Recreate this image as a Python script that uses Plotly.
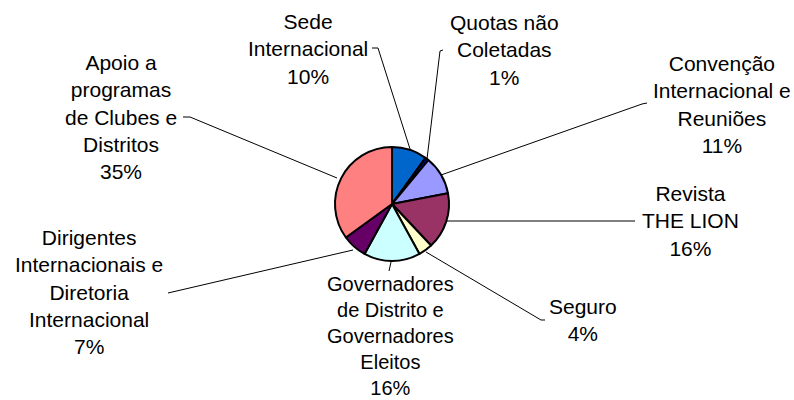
import plotly.graph_objects as go

# ---- data ----
labels = [
    "Sede Internacional",
    "Quotas não Coletadas",
    "Convenção Internacional e Reuniões",
    "Revista THE LION",
    "Seguro",
    "Governadores de Distrito e Governadores Eleitos",
    "Dirigentes Internacionais e Diretoria Internacional",
    "Apoio a programas de Clubes e Distritos",
]
values = [10, 1, 11, 16, 4, 16, 7, 35]
label_lines = [
    ["Sede", "Internacional"],
    ["Quotas não", "Coletadas"],
    ["Convenção", "Internacional e", "Reuniões"],
    ["Revista", "THE LION"],
    ["Seguro"],
    ["Governadores", "de Distrito e", "Governadores", "Eleitos"],
    ["Dirigentes", "Internacionais e", "Diretoria", "Internacional"],
    ["Apoio a", "programas", "de Clubes e", "Distritos"],
]
colors = ["#0066CC", "#000080", "#9999FF", "#993366", "#FFFFCC",
          "#CCFFFF", "#660066", "#FF8080"]

# ---- layout (pixel positions) ----
W, H = 794, 400
cx, cy, r = 392, 204, 57

label_pos = [(308, 49), (504, 50), (722, 104), (690, 221),
             (583, 320), (390, 336), (89, 292), (121, 117)]
label_size = [21, 21, 21, 21, 21, 20, 21, 21]
leaders = [
    [(372, 48), (378, 48), (410, 149)],
    [(443, 50), (440, 51), (427, 159)],
    [(647, 103), (642, 104), (441, 175)],
    [(635, 221), (446, 221)],
    [(545, 320), (541, 320), (426, 252)],
    [(389, 271), (391, 262)],
    [(168, 293), (353, 250)],
    [(183, 117), (190, 117), (337, 178)],
]

def px(x):
    return x / W

def py(y):
    return 1 - y / H

total = sum(values)
fig = go.Figure(go.Pie(
    labels=labels,
    values=values,
    sort=False,
    direction="clockwise",
    rotation=0,
    marker=dict(colors=colors, line=dict(color="black", width=2)),
    textinfo="none",
    hoverinfo="label+percent",
    domain=dict(x=[px(cx - r), px(cx + r)], y=[py(cy + r), py(cy - r)]),
    showlegend=False,
))

annotations = []
for lines, v, (x, y), fs in zip(label_lines, values, label_pos, label_size):
    pct = round(100 * v / total)
    text = "<br>".join(lines + [f"{pct}%"])
    annotations.append(dict(
        x=px(x), y=py(y), xref="paper", yref="paper",
        text=text, showarrow=False, align="center",
        xanchor="center", yanchor="middle",
        font=dict(family="Liberation Sans", size=fs, color="black"),
    ))

shapes = []
for pts in leaders:
    for (x0, y0), (x1, y1) in zip(pts[:-1], pts[1:]):
        shapes.append(dict(
            type="line", xref="paper", yref="paper",
            x0=px(x0), y0=py(y0), x1=px(x1), y1=py(y1),
            line=dict(color="black", width=1),
        ))

fig.update_layout(
    width=W, height=H,
    margin=dict(l=0, r=0, t=0, b=0),
    paper_bgcolor="white",
    plot_bgcolor="white",
    annotations=annotations,
    shapes=shapes,
)

fig.write_html(
    "out.html",
    config={"displayModeBar": False},
    post_script="document.body.style.margin='0';document.body.style.overflow='hidden';",
)
